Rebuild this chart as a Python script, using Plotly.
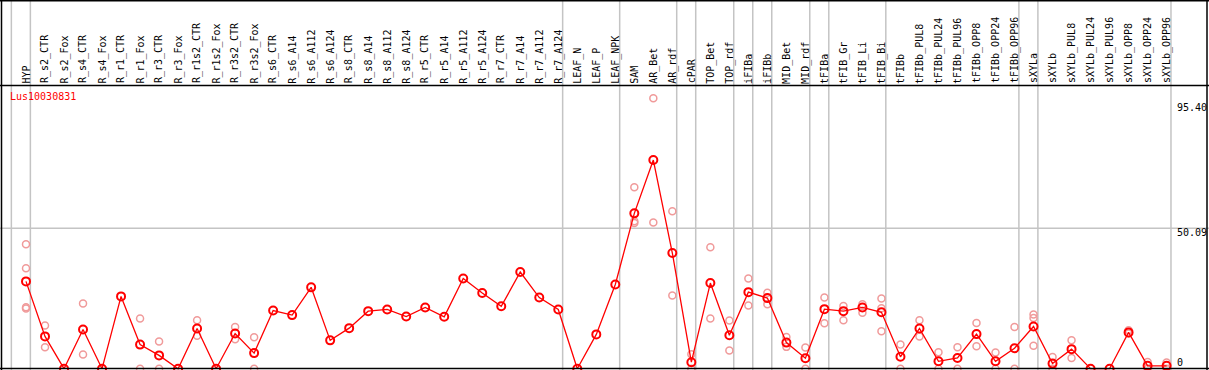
import plotly.graph_objects as go

categories = ["HYP", "R_s2_CTR", "R_s2_Fox", "R_s4_CTR", "R_s4_Fox", "R_r1_CTR", "R_r1_Fox",
              "R_r3_CTR", "R_r3_Fox", "R_r1s2_CTR", "R_r1s2_Fox", "R_r3s2_CTR", "R_r3s2_Fox",
              "R_s6_CTR", "R_s6_A14", "R_s6_A112", "R_s6_A124", "R_s8_CTR", "R_s8_A14",
              "R_s8_A112", "R_s8_A124", "R_r5_CTR", "R_r5_A14", "R_r5_A112", "R_r5_A124",
              "R_r7_CTR", "R_r7_A14", "R_r7_A112", "R_r7_A124", "LEAF_N", "LEAF_P", "LEAF_NPK",
              "SAM", "AR_Bet", "AR_rdf", "cPAR", "TOP_Bet", "TOP_rdf", "iFIBa", "iFIBb",
              "MID_Bet", "MID_rdf", "tFIBa", "tFIB_Gr", "tFIB_Li", "tFIB_Bi", "tFIBb",
              "tFIBb_PUL8", "tFIBb_PUL24", "tFIBb_PUL96", "tFIBb_OPP8", "tFIBb_OPP24",
              "tFIBb_OPP96", "sXYLa", "sXYLb", "sXYLb_PUL8", "sXYLb_PUL24", "sXYLb_PUL96",
              "sXYLb_OPP8", "sXYLb_OPP24", "sXYLb_OPP96"]

mean_values = [30.8, 11.4, 0, 13.8, 0, 25.5, 8.5, 4.7, 0, 14.2, 0, 12.4, 5.5,
               20.5, 18.9, 28.7, 10.0, 14.3, 20.3, 20.9, 18.4, 21.6, 18.3, 31.8, 26.7,
               22.0, 34.1, 25.1, 20.9, 0, 12.1, 29.7, 54.8, 73.6, 40.8, 2.3, 30.2, 11.8,
               27.0, 24.9, 9.2, 3.7, 21.0, 20.3, 21.6, 19.9, 4.2, 14.2, 2.6, 3.8, 12.2,
               2.6, 7.2, 14.9, 1.8, 6.9, 0, 0, 12.8, 1.0, 1.0]

rep_categories = ["HYP", "HYP", "HYP", "HYP", "R_s2_CTR", "R_s2_CTR", "R_s4_CTR", "R_s4_CTR",
                  "R_r1_Fox", "R_r1_Fox", "R_r3_CTR", "R_r3_CTR", "R_r1s2_CTR", "R_r1s2_CTR",
                  "R_r3s2_CTR", "R_r3s2_CTR", "R_r3s2_Fox", "R_r3s2_Fox",
                  "SAM", "SAM", "SAM", "AR_Bet", "AR_Bet", "AR_rdf", "AR_rdf", "cPAR", "cPAR",
                  "TOP_Bet", "TOP_Bet", "TOP_rdf", "TOP_rdf", "iFIBa", "iFIBa", "iFIBb", "iFIBb",
                  "MID_Bet", "MID_Bet", "MID_rdf", "MID_rdf", "tFIBa", "tFIBa",
                  "tFIB_Gr", "tFIB_Gr", "tFIB_Li", "tFIB_Li", "tFIB_Bi", "tFIB_Bi", "tFIB_Bi",
                  "tFIBb", "tFIBb", "tFIBb_PUL8", "tFIBb_PUL8", "tFIBb_PUL24", "tFIBb_PUL24",
                  "tFIBb_PUL96", "tFIBb_PUL96", "tFIBb_OPP8", "tFIBb_OPP8",
                  "tFIBb_OPP24", "tFIBb_OPP24", "tFIBb_OPP96", "tFIBb_OPP96",
                  "sXYLa", "sXYLa", "sXYLa", "sXYLb", "sXYLb", "sXYLb_PUL8", "sXYLb_PUL8",
                  "sXYLb_OPP8", "sXYLb_OPP8", "sXYLb_OPP24", "sXYLb_OPP24",
                  "sXYLb_OPP96", "sXYLb_OPP96"]
rep_values = [43.9, 35.4, 21.7, 21.2, 15.2, 7.6, 23.0, 5.0,
              17.7, 0, 9.6, 0, 17.1, 11.6,
              14.7, 10.4, 11.1, 0,
              64.0, 52.0, 51.4, 95.4, 51.6, 55.5, 25.8, 5.1, 0,
              42.8, 17.7, 17.0, 6.4, 31.8, 22.3, 26.8, 22.7,
              11.2, 7.7, 7.5, 0, 25.1, 16.0,
              22.1, 17.1, 22.7, 19.7, 24.8, 21.3, 13.2,
              8.5, 0, 17.1, 11.4, 5.8, 0,
              7.6, 0, 16.1, 7.9,
              5.7, 0, 14.7, 0,
              19.1, 17.9, 8.1, 4.1, 0, 10.0, 3.8,
              13.6, 12.4, 2.4, 0,
              2.2, 0]

group_ends = ["HYP", "R_r7_A124", "LEAF_NPK", "AR_rdf", "cPAR", "TOP_rdf", "iFIBa", "iFIBb",
              "MID_rdf", "tFIBa", "tFIB_Bi", "tFIBb_OPP96", "sXYLa", "sXYLb_OPP96"]

gene_name = "Lus10030831"
axis_labels = ["95.40", "50.09", "0"]

W, H = 1209, 370
MONO = "DejaVu Sans Mono"

idx = {c: i for i, c in enumerate(categories)}
xs = list(range(len(categories)))
rep_x = [idx[c] for c in rep_categories]

# pixel geometry helpers
x0px, dx = 26.0, 19.01
y0px, dy = 368.7, 2.835


def px_x(p):
    return p / W


def px_y(p):
    return 1 - p / H


fig = go.Figure()
fig.add_trace(go.Scatter(
    x=rep_x, y=rep_values, mode="markers",
    marker=dict(symbol="circle-open", size=7, color="#f09a9a", line=dict(width=1.5, color="#f09a9a")),
    hoverinfo="skip", showlegend=False, cliponaxis=False))
fig.add_trace(go.Scatter(
    x=xs, y=mean_values, mode="lines+markers",
    line=dict(color="#ff0000", width=1.3),
    marker=dict(symbol="circle-open", size=8, color="#ff0000", line=dict(width=2, color="#ff0000")),
    showlegend=False, cliponaxis=False))

shapes = []
# vertical gray separators
sep_positions = [-1 + 0.23] + [idx[c] + 0.23 for c in group_ends]
for s in sep_positions:
    shapes.append(dict(type="line", xref="x", yref="paper", x0=s, x1=s, y0=0, y1=1,
                       line=dict(color="#c4c4c4", width=1.5), layer="below"))
# horizontal gray gridline
shapes.append(dict(type="line", xref="paper", yref="paper", x0=0, x1=1,
                   y0=px_y(228.3), y1=px_y(228.3), line=dict(color="#c4c4c4", width=1.5), layer="below"))
# black frame
for yy in [0.7, 85.5, 368.5]:
    shapes.append(dict(type="line", xref="paper", yref="paper", x0=0, x1=1, y0=px_y(yy), y1=px_y(yy),
                       line=dict(color="black", width=1.5)))
for xx in [1.5, 1207]:
    shapes.append(dict(type="line", xref="paper", yref="paper", x0=px_x(xx), x1=px_x(xx), y0=0, y1=1,
                       line=dict(color="black", width=1.5)))

annotations = []
for i, c in enumerate(categories):
    annotations.append(dict(x=i, xref="x", y=px_y(84.5), yref="paper", text=c, textangle=-90,
                            xanchor="center", yanchor="bottom", showarrow=False, borderpad=0,
                            font=dict(family=MONO, size=10, color="black")))
annotations.append(dict(x=px_x(9), xref="paper", y=px_y(90), yref="paper", text=gene_name,
                        xanchor="left", yanchor="top", showarrow=False, borderpad=0,
                        font=dict(family=MONO, size=10, color="#ff0000")))
label_tops = [100.5, 225.5, 356.0]
for t, yt in zip(axis_labels, label_tops):
    annotations.append(dict(x=px_x(1176), xref="paper", y=px_y(yt), yref="paper", text=t,
                            xanchor="left", yanchor="top", showarrow=False, borderpad=0,
                            font=dict(family=MONO, size=10, color="black")))

fig.update_layout(
    width=W, height=H, margin=dict(l=0, r=0, t=0, b=0),
    paper_bgcolor="white", plot_bgcolor="white",
    xaxis=dict(range=[-x0px / dx, (W - x0px) / dx], visible=False, fixedrange=True),
    yaxis=dict(range=[(y0px - H) / dy, y0px / dy], visible=False, fixedrange=True),
    shapes=shapes, annotations=annotations, showlegend=False,
)

fig.write_html("out.html", config={"displayModeBar": False},
               post_script="document.body.style.margin='0';document.body.style.overflow='hidden';")
